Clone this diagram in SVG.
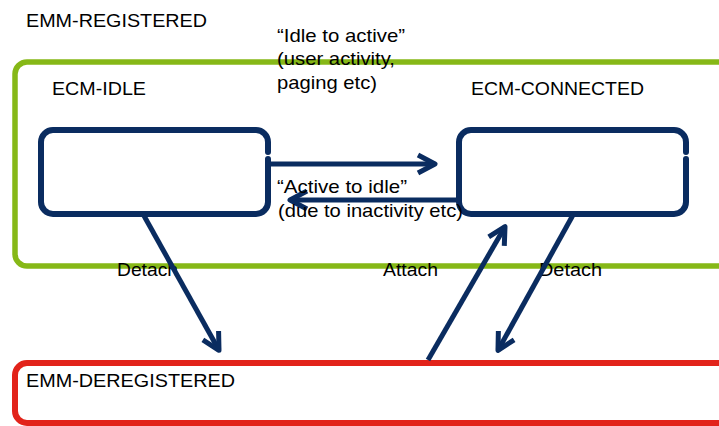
<svg xmlns="http://www.w3.org/2000/svg" width="719" height="426" viewBox="0 0 719 426">
  <defs>
    <style>
      .lbl { font-family: "Liberation Sans", Arial, sans-serif; font-size: 19px; fill: #000; }
      .state { fill: none; stroke: #0a2c60; stroke-width: 6; stroke-linecap: round; stroke-linejoin: round; }
      .conn { fill: none; stroke: #0a2c60; stroke-width: 5; marker-end: url(#arrow); }
    </style>
    <marker id="arrow" markerUnits="userSpaceOnUse" orient="auto" refX="0" refY="0" markerWidth="40" markerHeight="40" overflow="visible">
      <path d="M-17,-9 L0,0 L-17,9" fill="none" stroke="#0a2c60" stroke-width="5" stroke-linejoin="round" stroke-linecap="butt"/>
    </marker>
  </defs>

  <!-- outer registered region -->
  <g id="emm-registered">
    <rect x="15" y="62" width="730" height="204" rx="12" fill="none" stroke="#86b817" stroke-width="5.5"/>
    <text class="lbl" x="26" y="27" textLength="181" lengthAdjust="spacingAndGlyphs">EMM-REGISTERED</text>
  </g>

  <!-- deregistered region -->
  <g id="emm-deregistered">
    <rect x="15" y="363" width="730" height="60" rx="12" fill="none" stroke="#e2231a" stroke-width="6"/>
    <text class="lbl" x="26" y="387" textLength="209" lengthAdjust="spacingAndGlyphs">EMM-DEREGISTERED</text>
  </g>

  <!-- idle state -->
  <g id="ecm-idle">
    <text class="lbl" x="52" y="95" textLength="94" lengthAdjust="spacingAndGlyphs">ECM-IDLE</text>
    <path class="state" d="M268,152 L268,142 A12,12 0 0 0 256,130 L53,130 A12,12 0 0 0 41,142 L41,202 A12,12 0 0 0 53,214 L256,214 A12,12 0 0 0 268,202 L268,159"/>
  </g>

  <!-- connected state -->
  <g id="ecm-connected">
    <text class="lbl" x="471" y="95" textLength="173" lengthAdjust="spacingAndGlyphs">ECM-CONNECTED</text>
    <path class="state" d="M686,152 L686,142 A12,12 0 0 0 674,130 L471,130 A12,12 0 0 0 459,142 L459,202 A12,12 0 0 0 471,214 L674,214 A12,12 0 0 0 686,202 L686,159"/>
  </g>

  <!-- transitions -->
  <g id="connectors">
    <text class="lbl" x="117" y="276" textLength="61" lengthAdjust="spacingAndGlyphs">Detach</text>
    <text class="lbl" x="383" y="276" textLength="55" lengthAdjust="spacingAndGlyphs">Attach</text>
    <text class="lbl" x="539" y="276" textLength="63" lengthAdjust="spacingAndGlyphs">Detach</text>

    <line class="conn" x1="270" y1="164" x2="435" y2="164"/>
    <line class="conn" x1="459" y1="200" x2="290" y2="200"/>
    <line class="conn" x1="143" y1="214" x2="219" y2="350.3"/>
    <line class="conn" x1="428" y1="360" x2="505" y2="226.7"/>
    <line class="conn" x1="573" y1="215" x2="498" y2="350.3"/>

    <text class="lbl" x="277" y="42" textLength="128" lengthAdjust="spacingAndGlyphs">“Idle to active”</text>
    <text class="lbl" x="277" y="65" textLength="118" lengthAdjust="spacingAndGlyphs">(user activity,</text>
    <text class="lbl" x="277" y="89" textLength="100" lengthAdjust="spacingAndGlyphs">paging etc)</text>

    <text class="lbl" x="277" y="193" textLength="130" lengthAdjust="spacingAndGlyphs">“Active to idle”</text>
    <text class="lbl" x="278" y="217" textLength="185" lengthAdjust="spacingAndGlyphs">(due to inactivity etc)</text>
  </g>
</svg>
